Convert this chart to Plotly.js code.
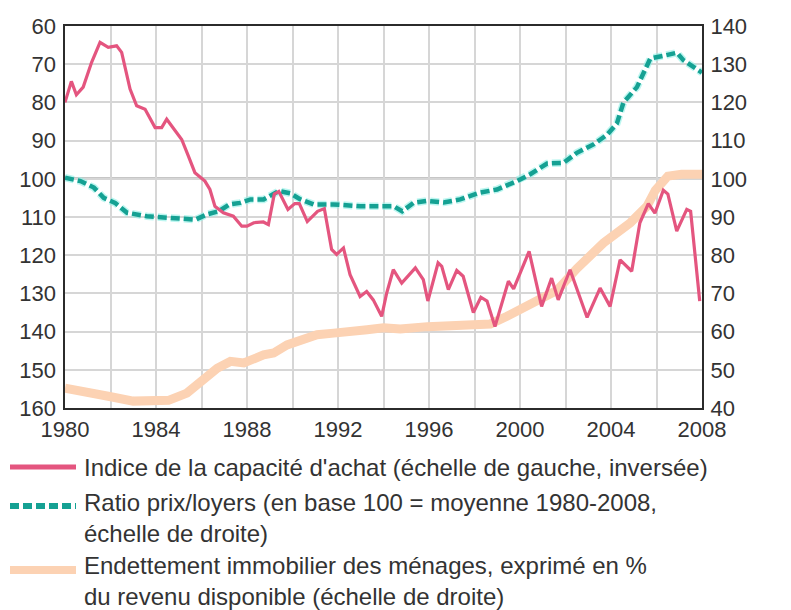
<!DOCTYPE html>
<html>
<head>
<meta charset="utf-8">
<script src="https://cdn.plot.ly/plotly-3.0.1.min.js"></script>
<style>
html,body{margin:0;padding:0;background:#fff;}
#chart{width:791px;height:610px;}
</style>
</head>
<body>
<div id="chart"></div>
<script>
// Indice de la capacité d'achat (left axis, inverted)
const capYears = [1980.0,1980.28,1980.5,1980.8,1981.17,1981.54,1981.9,1982.27,1982.49,1982.86,1983.15,1983.52,1983.96,1984.25,1984.47,1984.84,1985.13,1985.42,1985.71,1986.15,1986.37,1986.59,1986.96,1987.4,1987.77,1988.0,1988.3,1988.72,1988.94,1989.2,1989.4,1989.8,1990.1,1990.3,1990.65,1991.1,1991.4,1991.72,1991.94,1992.24,1992.53,1992.97,1993.26,1993.55,1993.92,1994.14,1994.43,1994.8,1995.4,1995.75,1995.95,1996.4,1996.56,1996.85,1997.22,1997.5,1997.95,1998.28,1998.55,1998.9,1999.49,1999.72,2000.4,2000.95,2001.39,2001.68,2002.2,2002.95,2003.52,2003.96,2004.4,2004.91,2005.27,2005.64,2005.93,2006.3,2006.5,2006.89,2007.33,2007.5,2007.9];
const capValues = [80,74.5,78,76,69.5,64.3,65.6,65.2,66.9,76.5,80.9,81.8,86.6,86.6,84.4,87.5,89.7,94,98.4,100.6,102.8,107.2,108.9,109.8,112.4,112.4,111.5,111.3,112,104,103.3,108,106.5,106.5,111.2,108.5,107.8,118.5,119.8,118.1,125.1,130.8,129.5,131.7,136,129.9,123.8,127.3,123.3,126.4,132,122,122.9,129,124,125.5,135,131,132,138.7,126.8,128.8,119,133.4,126,131.7,123.8,136.3,128.6,133.4,121.2,124.2,111.5,106.5,109,103,104,113.7,108,108.5,132];

// Ratio prix/loyers (right axis)
const ratioYears = [1980.0,1980.68,1981.27,1981.7,1982.2,1982.73,1983.6,1984.63,1985.73,1986.25,1986.76,1987.23,1987.7,1988.15,1988.73,1989.4,1989.9,1990.35,1990.93,1991.8,1992.98,1994.15,1994.45,1994.82,1995.32,1995.9,1996.64,1997.37,1998.25,1998.99,1999.87,2000.45,2001.19,2001.92,2002.5,2003.23,2003.82,2004.26,2004.55,2005.14,2005.73,2006.31,2006.9,2007.19,2007.63,2008.0];
const ratioValues = [100.3,99.4,97.7,95,93.7,91.1,90.2,89.8,89.3,90.7,91.5,93.3,93.7,94.6,94.6,96.8,96.2,94.6,93.3,93.3,92.8,92.8,92.8,91.5,93.7,94.2,93.8,94.6,96.4,97.2,99.4,101.2,104,104.2,106.8,109,111.5,114.5,120,124,131.5,132.2,133,131,129.2,127.8];

// Endettement immobilier des ménages, % du revenu disponible (right axis)
const debtYears = [1980.0,1980.97,1981.96,1983.0,1983.98,1984.55,1985.36,1985.95,1986.69,1987.27,1987.86,1988.73,1989.17,1989.76,1990.35,1991.08,1991.81,1992.54,1993.28,1994.0,1994.74,1995.93,1997.73,1998.7,1999.43,2000.6,2001.63,2002.5,2003.67,2004.85,2005.58,2005.95,2006.5,2007.1,2008.0];
const debtValues = [45.2,43.9,43,41.8,41.7,42,43.9,46.9,50.4,52.2,51.8,53.9,54.4,56.5,57.8,59.2,59.6,59.8,60.5,61,60.7,61.3,61.8,62,64,67.3,70.8,76.5,83.2,88.5,92.8,97,100.7,101.2,101.2];

const xTickVals = [1980,1984,1988,1992,1996,2000,2004,2008];
const xTickText = ['1980','1984','1988','1992','1996','2000','2004','2008'];
const leftTickVals = [60,70,80,90,100,110,120,130,140,150,160];
const rightTickVals = [40,50,60,70,80,90,100,110,120,130,140];

const legendLabels = [
  "Indice de la capacité d'achat (échelle de gauche, inversée)",
  "Ratio prix/loyers (en base 100 = moyenne 1980-2008,<br>échelle de droite)",
  "Endettement immobilier des ménages, exprimé en %<br>du revenu disponible (échelle de droite)"
];

// ---- styling / layout ----
const W = 791, H = 610;
const M = {l: 65, r: 89, t: 26, b: 202};
const PW = W - M.l - M.r, PH = H - M.t - M.b;
const px2x = p => (p - M.l) / PW;
const py2y = p => (H - M.b - p) / PH;

const COLORS = {cap: '#e4557f', ratio: '#15a193', ratioGlow: '#8ff0e6', debt: '#fcd2b3'};
const FONT = 'Liberation Sans, Arial, Helvetica, sans-serif';
const TXT = '#333333';
const DASH = '9px,4px';

const traces = [
  {x: debtYears, y: debtValues, yaxis: 'y', type: 'scatter', mode: 'lines',
   line: {color: COLORS.debt, width: 9}, showlegend: false, hoverinfo: 'skip'},
  {x: ratioYears, y: ratioValues, yaxis: 'y', type: 'scatter', mode: 'lines',
   line: {color: COLORS.ratioGlow, width: 7.5, dash: DASH}, opacity: 0.6, showlegend: false, hoverinfo: 'skip'},
  {x: ratioYears, y: ratioValues, yaxis: 'y', type: 'scatter', mode: 'lines',
   line: {color: COLORS.ratio, width: 4.5, dash: DASH}, showlegend: false, hoverinfo: 'skip'},
  {x: capYears, y: capValues, yaxis: 'y2', type: 'scatter', mode: 'lines',
   line: {color: COLORS.cap, width: 3.2}, showlegend: false, hoverinfo: 'skip'}
];

const legendRows = [
  {sampleY: 467, color: COLORS.cap, width: 5, dash: 'solid', textY: 467},
  {sampleY: 506, color: COLORS.ratio, width: 6, dash: DASH, textY: 518},
  {sampleY: 570, color: COLORS.debt, width: 8, dash: 'solid', textY: 581}
];

const shapes = [
  {type: 'line', xref: 'paper', yref: 'y', x0: 0, x1: 1, y0: 100, y1: 100,
   line: {color: '#1f1f1f', width: 2}, layer: 'below'}
];
const annotations = [];
legendRows.forEach((row, i) => {
  shapes.push({type: 'line', xref: 'paper', yref: 'paper',
    x0: px2x(10), x1: px2x(76), y0: py2y(row.sampleY), y1: py2y(row.sampleY),
    line: {color: row.color, width: row.width, dash: row.dash}});
  annotations.push({xref: 'paper', yref: 'paper', x: px2x(83), y: py2y(row.textY),
    xanchor: 'left', yanchor: 'middle', align: 'left', showarrow: false, text: legendLabels[i],
    borderpad: 0, font: {family: FONT, size: 24, color: TXT}});
});

const layout = {
  width: W, height: H,
  margin: M,
  paper_bgcolor: '#ffffff', plot_bgcolor: '#ffffff',
  showlegend: false,
  font: {family: FONT, size: 22, color: TXT},
  xaxis: {
    range: [1980, 2008], tickvals: xTickVals, ticktext: xTickText,
    showgrid: true, gridcolor: '#d6d6d6', gridwidth: 2,
    minor: {dtick: 2, tick0: 1980, showgrid: true, gridcolor: '#d6d6d6', gridwidth: 2},
    showline: true, linecolor: '#2b2b2b', linewidth: 2, mirror: true,
    ticks: '', ticklabelstandoff: 1, zeroline: false,
    tickfont: {family: FONT, size: 22, color: TXT}
  },
  yaxis: {
    range: [40, 140], side: 'right', tickvals: rightTickVals,
    showgrid: true, gridcolor: '#d6d6d6', gridwidth: 2,
    showline: true, linecolor: '#2b2b2b', linewidth: 2, mirror: true,
    ticks: '', ticklabelstandoff: 2, zeroline: false,
    tickfont: {family: FONT, size: 22, color: TXT}
  },
  yaxis2: {
    range: [160, 60], side: 'left', overlaying: 'y', tickvals: leftTickVals,
    showgrid: false, showline: false, zeroline: false,
    ticks: '', ticklabelstandoff: 8,
    tickfont: {family: FONT, size: 22, color: TXT}
  },
  shapes: shapes,
  annotations: annotations
};

Plotly.newPlot('chart', traces, layout, {staticPlot: true, displayModeBar: false});
</script>
</body>
</html>
